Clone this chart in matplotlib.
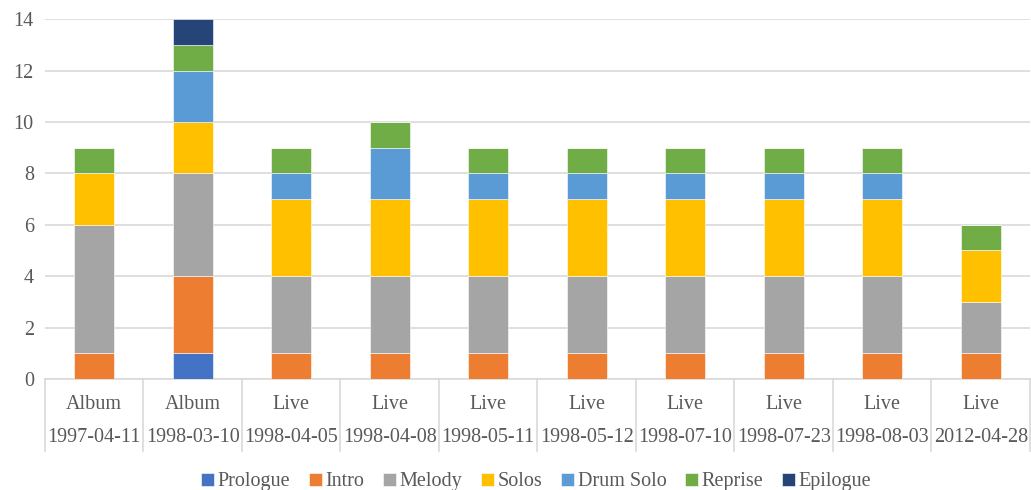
import matplotlib
matplotlib.use("Agg")
import matplotlib.pyplot as plt
import numpy as np

plt.rcParams.update({
    "font.family": ["Liberation Serif", "DejaVu Serif"],
    "text.color": "#595959",
    "xtick.color": "#595959",
    "ytick.color": "#595959",
})

types = ["Album", "Album", "Live", "Live", "Live", "Live", "Live", "Live", "Live", "Live"]
dates = ["1997-04-11", "1998-03-10", "1998-04-05", "1998-04-08", "1998-05-11",
         "1998-05-12", "1998-07-10", "1998-07-23", "1998-08-03", "2012-04-28"]

series = ["Prologue", "Intro", "Melody", "Solos", "Drum Solo", "Reprise", "Epilogue"]
prologue = [0, 1, 0, 0, 0, 0, 0, 0, 0, 0]
intro = [1, 3, 1, 1, 1, 1, 1, 1, 1, 1]
melody = [5, 4, 3, 3, 3, 3, 3, 3, 3, 2]
solos = [2, 2, 3, 3, 3, 3, 3, 3, 3, 2]
drum_solo = [0, 2, 1, 2, 1, 1, 1, 1, 1, 0]
reprise = [1, 1, 1, 1, 1, 1, 1, 1, 1, 1]
epilogue = [0, 1, 0, 0, 0, 0, 0, 0, 0, 0]
values = [prologue, intro, melody, solos, drum_solo, reprise, epilogue]

colors = ["#4472C4", "#ED7D31", "#A5A5A5", "#FFC000", "#5B9BD5", "#70AD47", "#264478"]

fig = plt.figure(figsize=(10.31, 4.9), dpi=100)
ax = fig.add_axes([0.0436, 0.2265, 0.9554, 0.7345])

x = np.arange(len(dates))
bottom = np.zeros(len(dates))
for name, vals, c in zip(series, values, colors):
    vals = np.array(vals, dtype=float)
    ax.bar(x, vals, 0.41, bottom=bottom, color=c, label=name,
           edgecolor="white", linewidth=0.4, zorder=3)
    bottom += vals

ax.set_xlim(-0.5, len(dates) - 0.5)
ax.set_ylim(0, 14)
ax.set_yticks(range(0, 15, 2))
ax.tick_params(axis="y", length=0, labelsize=14.5, pad=8)
ax.set_xticks([])
ax.yaxis.grid(True, color="#D9D9D9", linewidth=1.2, zorder=0)
for s in ["top", "right", "left"]:
    ax.spines[s].set_visible(False)
ax.spines["bottom"].set_color("#D9D9D9")
ax.spines["bottom"].set_linewidth(1.2)

# two-level category axis
trans = ax.get_xaxis_transform()
for b in np.arange(-0.5, len(dates), 1.0):
    ax.plot([b, b], [0, -0.2], transform=trans, color="#D9D9D9",
            linewidth=1.2, clip_on=False)
for xi, t, d in zip(x, types, dates):
    ax.text(xi, -0.07, t, transform=trans, ha="center", va="center", fontsize=14.5)
    ax.text(xi, -0.162, d, transform=trans, ha="center", va="center", fontsize=14.5)

fig.legend(loc="lower center", bbox_to_anchor=(0.52, -0.04), ncol=7, frameon=False,
           fontsize=14.5, handlelength=0.65, handleheight=0.65, handletextpad=0.2,
           columnspacing=0.9)

fig.savefig("out.png", dpi=100)
